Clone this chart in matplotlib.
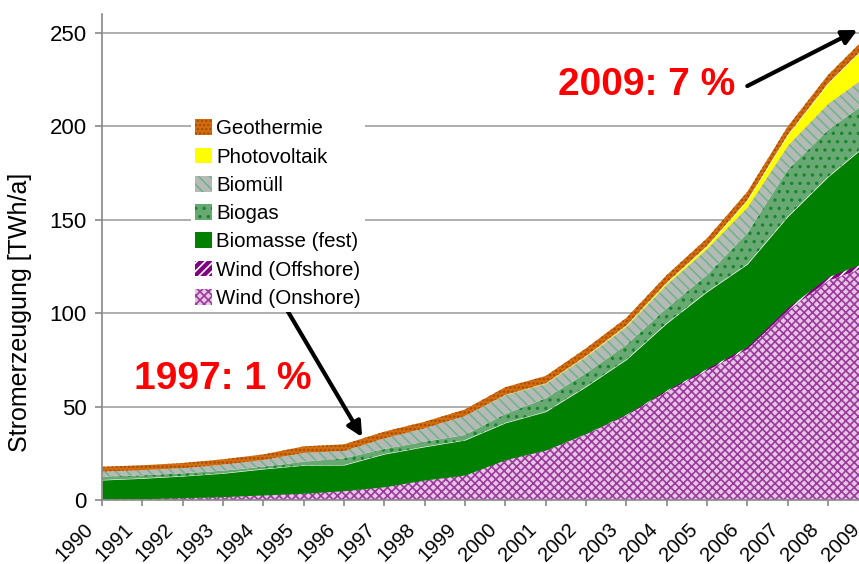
import numpy as np
import matplotlib
matplotlib.use('Agg')
import matplotlib.pyplot as plt
import matplotlib.transforms as mtransforms

plt.rcParams['font.family'] = ['Liberation Sans', 'DejaVu Sans']
plt.rcParams['hatch.linewidth'] = 1.2

years = list(range(1990, 2010))

# TWh/a per year
wind_onshore = [0.6, 0.7, 1.2, 1.8, 2.7, 3.6, 5.0, 7.1, 10.7, 13.4,
                21.6, 26.5, 35.2, 45.2, 57.9, 69.2, 80.6, 101.2, 117.3, 125.1]
wind_offshore = [0, 0, 0, 0, 0, 0, 0, 0, 0, 0,
                 0, 0.3, 0.5, 0.8, 1.0, 1.3, 1.5, 1.8, 2.2, 2.8]
biomasse = [10.1, 10.9, 11.6, 12.5, 13.9, 15.0, 13.7, 17.5, 17.8, 18.7,
            19.7, 20.5, 25.0, 29.2, 35.7, 41.0, 44.2, 48.7, 53.5, 63.1]
biogas = [1.8, 1.6, 1.5, 1.4, 1.2, 1.9, 3.6, 2.7, 2.7, 2.7,
          4.7, 7.1, 7.1, 7.8, 8.0, 8.9, 16.5, 25.0, 25.0, 22.6]
biomuell = [2.7, 2.8, 2.7, 3.2, 3.6, 4.7, 3.9, 5.7, 7.2, 10.2,
            10.2, 7.9, 9.0, 10.0, 13.0, 14.3, 14.2, 13.3, 14.4, 14.3]
photovoltaik = [0, 0, 0, 0, 0, 0, 0, 0, 0, 0,
                0.1, 0.2, 0.3, 0.4, 0.7, 1.3, 3.5, 5.4, 10.6, 16.4]
geothermie = [2.6, 2.6, 2.8, 2.9, 3.0, 3.5, 3.6, 3.6, 3.5, 3.5,
              4.1, 3.9, 4.1, 4.1, 4.1, 4.1, 4.5, 4.5, 4.5, 4.7]

labels = ['Wind (Onshore)', 'Wind (Offshore)', 'Biomasse (fest)', 'Biogas',
          'Biomüll', 'Photovoltaik', 'Geothermie']
faces = ['#e8c4e8', '#800080', '#008000', '#68a872', '#b6bab6', '#ffff00', '#d46c10']
hatch_cols = ['#9a3a9a', '#ffffff', '#008000', '#17852a', '#6fb48c', '#ffff00', '#a34e00']
hatches = ['xxxx', '////', None, '..', '\\\\\\', None, '....']

fig = plt.figure(figsize=(8.59, 5.64), dpi=100)
ax = fig.add_axes([102 / 859, 64 / 564, 766.3 / 859, 485.7 / 564])

polys = ax.stackplot(years, wind_onshore, wind_offshore, biomasse, biogas,
                     biomuell, photovoltaik, geothermie, labels=labels, colors=faces)
for p, h, ec in zip(polys, hatches, hatch_cols):
    p.set_edgecolor(ec)
    p.set_linewidth(0)
    if h:
        p.set_hatch(h)

ax.set_xlim(1990, 2009)
ax.set_ylim(0, 260)
ax.set_yticks([0, 50, 100, 150, 200, 250])
ax.set_xticks(years)
ax.set_axisbelow(True)
ax.yaxis.grid(True, color='#a8a8a8', lw=1.3)

for s in ['top', 'right']:
    ax.spines[s].set_visible(False)
for s in ['left', 'bottom']:
    ax.spines[s].set_color('#888888')
    ax.spines[s].set_linewidth(1.2)

ax.tick_params(axis='y', length=5, width=1.2, color='#888888', labelsize=16, pad=6)
ax.tick_params(axis='x', length=4, width=1.2, color='#888888', labelsize=14.5, pad=15)
offset = mtransforms.ScaledTranslation(-0.12, 0, fig.dpi_scale_trans)
for lab in ax.get_xticklabels():
    lab.set_rotation(45)
    lab.set_ha('right')
    lab.set_va('center')
    lab.set_rotation_mode('anchor')
    lab.set_transform(lab.get_transform() + offset)

ax.set_ylabel('Stromerzeugung [TWh/a]', fontsize=18)
ax.yaxis.set_label_coords((32 - 102) / 766.3, 0.387)

handles = polys[::-1]
leg = ax.legend(handles, labels[::-1], loc='upper left',
                bbox_to_anchor=(181 / 859, 1 - 105 / 564), bbox_transform=fig.transFigure,
                fontsize=14.8, frameon=True, framealpha=1, facecolor='white',
                edgecolor='none', fancybox=False, borderpad=0.2,
                handlelength=0.8, handleheight=0.8, handletextpad=0.2,
                labelspacing=0.45)

arrow = dict(arrowstyle='-|>', color='black', lw=3, mutation_scale=22,
             shrinkA=0, shrinkB=0)
ax.annotate('', xy=(2008.73, 251.6), xytext=(2006.0, 221.6), arrowprops=arrow)
ax.annotate('', xy=(1996.45, 33.7), xytext=(1994.47, 106), arrowprops=arrow)

ax.text(2003.5, 222, '2009: 7 %', color='red', fontsize=28, fontweight='bold',
        ha='center', va='center')
ax.text(1993.0, 64.8, '1997: 1 %', color='red', fontsize=28, fontweight='bold',
        ha='center', va='center')

fig.savefig('out.png', dpi=100)
